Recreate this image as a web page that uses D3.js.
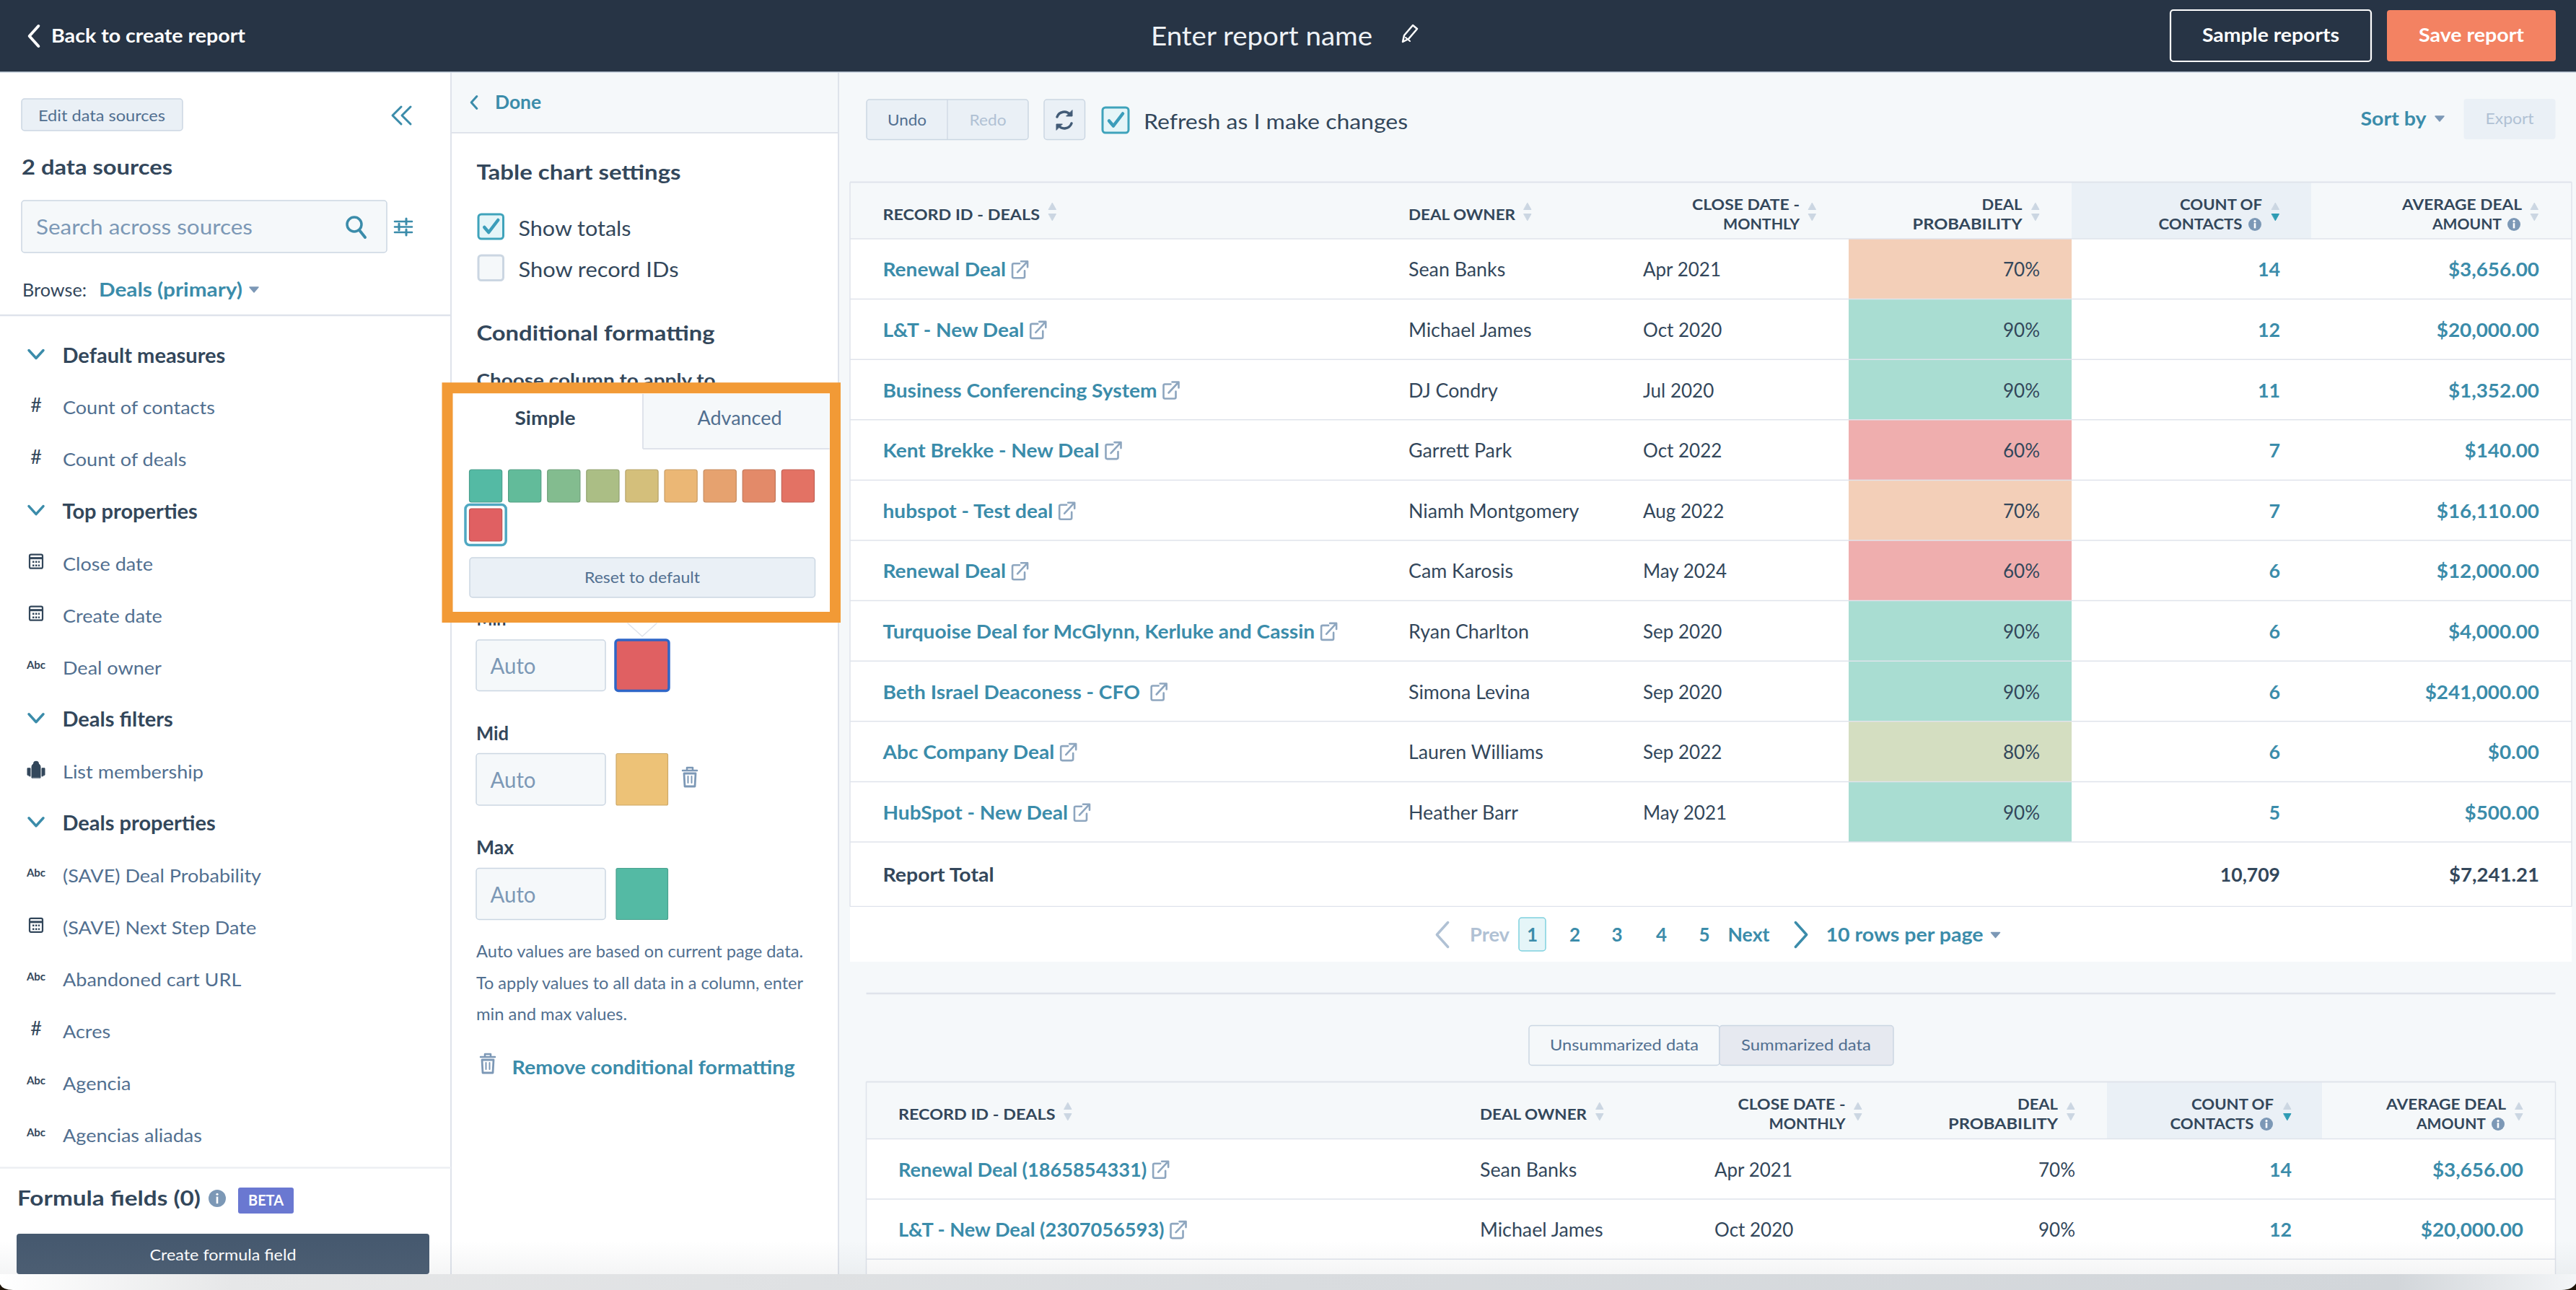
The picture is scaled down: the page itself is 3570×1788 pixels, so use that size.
<!DOCTYPE html>
<html><head><meta charset="utf-8">
<script src="https://cdn.jsdelivr.net/npm/d3@7/dist/d3.min.js"></script>
<style>html,body{margin:0;padding:0;background:#f5f8fa;overflow:hidden}svg{display:block}text{font-family:Lato,"Noto Sans",sans-serif}</style>
</head><body><svg id="c" width="3570" height="1788" viewBox="0 0 3570 1788"></svg>
<script>
// ---- data ----
const dealNames=["Renewal Deal","L&T - New Deal","Business Conferencing System","Kent Brekke - New Deal","hubspot - Test deal","Renewal Deal","Turquoise Deal for McGlynn, Kerluke and Cassin","Beth Israel Deaconess - CFO\u00a0","Abc Company Deal","HubSpot - New Deal"];
const dealOwners=["Sean Banks","Michael James","DJ Condry","Garrett Park","Niamh Montgomery","Cam Karosis","Ryan Charlton","Simona Levina","Lauren Williams","Heather Barr"];
const closeDates=["Apr 2021","Oct 2020","Jul 2020","Oct 2022","Aug 2022","May 2024","Sep 2020","Sep 2020","Sep 2022","May 2021"];
const dealProbs=[70,90,90,60,70,60,90,90,80,90];
const contactCounts=[14,12,11,7,7,6,6,6,6,5];
const dealAmounts=[3656,20000,1352,140,16110,12000,4000,241000,0,500];
const totalContacts=10709, totalAmount=7241.21;
const rawNames=["Renewal Deal (1865854331)","L&T - New Deal (2307056593)"];
const probLevels=[60,70,80,90];
const probColors=["#efaeae","#f3cfb8","#d4dec1","#a9ddd2"];
const palette=["#54baa4","#62bb9a","#83bc8f","#abbe85","#d4bf7b","#ebb775","#e6a26f","#e38a69","#e37264","#e06062"];
const sidebarLabels=["Default measures","Count of contacts","Count of deals","Top properties","Close date","Create date","Deal owner","Deals filters","List membership","Deals properties","(SAVE) Deal Probability","(SAVE) Next Step Date","Abandoned cart URL","Acres","Agencia","Agencias aliadas"];
const sidebarKinds=["h","#","#","h","d","d","a","h","l","h","a","d","a","#","a","a"];
const pageNumbers=[1,2,3,4,5];
const noteLines=["Auto values are based on current page data.","To apply values to all data in a column, enter","min and max values."];

// ---- helpers ----
const svg=d3.select("#c");
const TEAL="#3b8caa",INK="#33475b",SLATE="#516f90",MUTE="#7c98b6",LINE="#dfe3eb",BG="#f5f8fa",BTN="#eaf0f6",EDGE="#cbd6e2";
function T(x,cy,s,o={}){
  const t=svg.append("text").attr("x",x).attr("y",cy).attr("dy","0.35em").text(s)
   .attr("font-size",o.size||26).attr("font-weight",o.w||400).attr("fill",o.fill||INK).attr("text-anchor",o.a||"start");
  const n=t.node().getComputedTextLength();
  t.property("natural",n*(o.k||1));
  if(o.k){t.attr("textLength",n*o.k).attr("lengthAdjust","spacingAndGlyphs");}
  if(o.fit){t.attr("textLength",o.fit).attr("lengthAdjust","spacingAndGlyphs");}
  return t;
}
function R(x0,y0,x1,y1,o={}){
  return svg.append("rect").attr("x",x0).attr("y",y0).attr("width",x1-x0).attr("height",y1-y0)
   .attr("rx",o.r||0).attr("fill",o.fill||"none").attr("stroke",o.stroke||"none").attr("stroke-width",o.sw||1.5);
}
function L(x0,y0,x1,y1,c=LINE,sw=1.5){svg.append("line").attr("x1",x0).attr("y1",y0).attr("x2",x1).attr("y2",y1).attr("stroke",c).attr("stroke-width",sw);}
function P(d,o={}){return svg.append("path").attr("d",d).attr("fill",o.fill||"none").attr("stroke",o.stroke||"none").attr("stroke-width",o.sw||2).attr("stroke-linecap","round").attr("stroke-linejoin","round");}
function chevL(x,cy,h,c,sw=3.5){const w=h*0.45;P(`M${x+w/2},${cy-h/2}L${x-w/2},${cy}L${x+w/2},${cy+h/2}`,{stroke:c,sw});}
function chevR(x,cy,h,c,sw=3.5){const w=h*0.45;P(`M${x-w/2},${cy-h/2}L${x+w/2},${cy}L${x-w/2},${cy+h/2}`,{stroke:c,sw});}
function chevD(x,cy,c){P(`M${x-10},${cy-5}L${x},${cy+6}L${x+10},${cy-5}`,{stroke:c,sw:3.5});}
function caret(x,cy,c){P(`M${x-6},${cy-3}L${x+6},${cy-3}L${x},${cy+4}Z`,{fill:c,stroke:c,sw:1.5});}
function sort(x,y,act){
  P(`M${x-5},${y+9}L${x+5},${y+9}L${x},${y}Z`,{fill:EDGE,stroke:EDGE,sw:1});
  P(`M${x-5},${y+15}L${x+5},${y+15}L${x},${y+24}Z`,{fill:act?"#2f9cb4":EDGE,stroke:act?"#2f9cb4":EDGE,sw:1});
}
function info(x,cy,r=9){svg.append("circle").attr("cx",x).attr("cy",cy).attr("r",r).attr("fill",MUTE);
  R(x-1.3,cy-r*0.2,x+1.3,cy+r*0.6,{fill:"#fff"});svg.append("circle").attr("cx",x).attr("cy",cy-r*0.48).attr("r",1.6).attr("fill","#fff");}
function ext(x,cy){const c="#8ea6bf";
  P(`M${x+11},${cy-9}H${x+3}a2,2 0 0 0 -2,2V${cy+9}a2,2 0 0 0 2,2H${x+16}a2,2 0 0 0 2,-2V${cy+1}`,{stroke:c,sw:2.6});
  P(`M${x+8},${cy+3}L${x+21},${cy-11}M${x+13},${cy-12}H${x+22}V${cy-4}`,{stroke:c,sw:2.6});}
function check(x0,y0,x1,y1,on){R(x0,y0,x1,y1,{r:4,fill:on?"#e5f5f8":BG,stroke:on?"#3fa3bb":EDGE,sw:3});
  if(on){const cx=(x0+x1)/2,cy=(y0+y1)/2;P(`M${cx-9},${cy+1}L${cx-3},${cy+8}L${cx+10},${cy-9}`,{stroke:"#3b9dba",sw:4.5});}}
function trash(x,cy,c){P(`M${x-10},${cy-9}H${x+10}M${x-4},${cy-9}V${cy-13}H${x+4}V${cy-9}`,{stroke:c,sw:2.5});
  P(`M${x-8},${cy-5}H${x+8}L${x+7},${cy+13}H${x-7}Z`,{stroke:c,sw:2.8});P(`M${x-2.5},${cy-1}V${cy+8}M${x+2.5},${cy-1}V${cy+8}`,{stroke:c,sw:2});}

const fmtMoney=d3.format("$,.2f"),fmtInt=d3.format(",");
const probColor=d3.scaleOrdinal(probLevels,probColors);

// ---- page base ----
R(0,0,3570,1788,{fill:BG});
R(0,100,625,1788,{fill:"#fff"});R(625,184,1162,1788,{fill:"#fff"});R(625,100,1162,184,{fill:BG});
L(625,100,625,1788,LINE,2);L(1162,100,1162,1788,LINE,2);L(625,184,1162,184,LINE,2);

// ---- top bar ----
R(0,0,3570,100,{fill:"#273445"});L(0,100,3570,100,"#cbd6e2",1.5);
chevL(47,50,28,"#fff",4);
T(71,50,"Back to create report",{size:27,w:700,fill:"#fff",fit:269});
T(1595,50,"Enter report name",{size:37,fill:"#eef2f6",fit:307});
P("M1944,58l2,-9l12,-14l6,5l-12,14z",{stroke:"#fff",sw:2.5});P("M1948,52l6,5",{stroke:"#fff",sw:2});
R(3008,14,3286,85,{r:4,stroke:"#fff",sw:2.2});T(3147,49,"Sample reports",{size:26,w:700,fill:"#fff",a:"middle",fit:190});
R(3308,14,3542,85,{r:4,fill:"#f38262"});T(3425,49,"Save report",{size:26,w:700,fill:"#fff",a:"middle",fit:146});

// ---- sidebar ----
R(30,137,253,181,{r:4,fill:BTN,stroke:EDGE});T(53,161,"Edit data sources",{size:21,fill:SLATE,fit:176});
P("M556,148L544,160L556,172M569,148L557,160L569,172",{stroke:TEAL,sw:3});
T(30,232,"2 data sources",{size:28,w:700,fit:209});
R(30,278,536,350,{r:4,fill:BG,stroke:EDGE});T(50,315,"Search across sources",{size:29,fill:MUTE,fit:300});
svg.append("circle").attr("cx",491).attr("cy",311).attr("r",10).attr("fill","none").attr("stroke",TEAL).attr("stroke-width",3.5);
P("M498,319L506,329",{stroke:TEAL,sw:4});
P("M547,307H571M547,314.5H571M547,322H571",{stroke:TEAL,sw:2.6});P("M563,303V311M553,310V319M563,318V326",{stroke:TEAL,sw:3});
T(31,402,"Browse:",{size:25,fit:89});T(137,402,"Deals (primary)",{size:26,w:700,fill:TEAL,fit:199});caret(352,401,MUTE);
L(0,437,625,437,LINE,2.5);

const sideY=d3.scaleLinear().domain([0,15]).range([492.5,1573]);
sidebarLabels.forEach((s,i)=>{
  const k=sidebarKinds[i],y=sideY(i);
  if(k==="h"){chevD(50,y-2,TEAL);T(86.5,y,s,{size:29,w:700});return;}
  T(87,y+1,s,{size:25.5,fill:SLATE,k:1.06});
  if(k==="#")T(50,y-3,"#",{size:27,fill:INK,a:"middle"});
  if(k==="a")T(50,y-3,"Abc",{size:15,w:700,fill:INK,a:"middle"});
  if(k==="d"){R(41,y-12,59,y+7,{r:2,stroke:INK,sw:2.2});L(41,y-7,59,y-7,INK,3);
    svg.append("path").attr("d",`M45,${y-2}h10M45,${y+3}h10`).attr("stroke",INK).attr("stroke-width",2.5).attr("stroke-dasharray","2.5 1.5");}
  if(k==="l"){P(`M44,${y+9}V${y-6}a6,5 0 0 1 12,0V${y+9}Z`,{fill:INK,stroke:INK,sw:1});
    svg.append("circle").attr("cx",50).attr("cy",y-10).attr("r",4).attr("fill",INK);
    P(`M38,${y+5}V${y-4}h4V${y+7}ZM58,${y+7}V${y-4}h4V${y+5}Z`,{fill:INK,stroke:INK,sw:1});}
});
L(0,1618.5,625,1618.5,"#eceff3",2.5);
T(24,1661,"Formula fields (0)",{size:29,w:700,fit:254});info(301,1661,12);
R(330,1646,407,1682,{r:3,fill:"#6a78d1"});T(368.5,1664,"BETA",{size:20,w:700,fill:"#fff",a:"middle",fit:49});
R(23,1710,595,1766,{r:4,fill:"#46596f"});T(309,1739,"Create formula field",{size:22,fill:"#fff",a:"middle",fit:203});

// ---- settings panel ----
chevL(657,142,17,TEAL,3);T(686,142,"Done",{size:26,w:700,fill:TEAL,fit:64});
T(660.5,239,"Table chart settings",{size:28,w:700,fit:283});
check(663,297,697.5,331,true);T(718.5,317.5,"Show totals",{size:28,fit:156});
check(663,354,697.5,388.5,false);T(718.5,374,"Show record IDs",{size:28,fit:222});
T(660.5,462,"Conditional formatting",{size:28,w:700,fit:330});
T(660.5,527,"Choose column to apply to",{size:25,w:700,fit:331});
T(660.5,858,"Min",{size:25,w:700,fit:41});

const inputs=[[887,957.5,"Auto",palette[9]],[1044.5,1116,"Auto","#edc277"],[1203.5,1274.5,"Auto",palette[0]]];
inputs.forEach(([a,b,s,c],i)=>{
  R(660,a,839,b,{r:4,fill:BG,stroke:EDGE});T(679.5,(a+b)/2+1.5,s,{size:30,fill:MUTE,fit:63});
  if(i===0)R(853,a,927,b,{r:4,fill:c,stroke:"#2f66c7",sw:3.5});
  else R(854,a,925.5,b,{r:2,fill:c,stroke:d3.color(c).darker(0.4),sw:1.2});
});
T(660,1017,"Mid",{size:26,w:700,fit:45});T(660,1175,"Max",{size:26,w:700,fit:52});
trash(956,1077,MUTE);
const noteFit=[453,453,209];
noteLines.forEach((s,i)=>T(660,[1319.5,1363.5,1406.5][i],s,{size:22.5,fill:SLATE,fit:noteFit[i]}));
trash(676,1474,MUTE);T(709.5,1480,"Remove conditional formatting",{size:26,w:700,fill:TEAL,fit:392});

// orange call-out box
R(620,537.7,1157.5,855.5,{fill:"#fff",stroke:"#f29a36",sw:15});
P("M870,864L890,882L910,864",{stroke:LINE,sw:1.5});
R(891,546,1149.5,622,{fill:BG});L(891,546,891,622,LINE,2);L(891,622,1149.5,622,LINE,2);
T(755.5,580,"Simple",{size:26,w:700,a:"middle",fit:84});T(1025,580,"Advanced",{size:26,fill:SLATE,a:"middle",fit:117});
const swX=d3.scaleBand().domain(d3.range(9)).range([650.5,1128.5]).paddingInner(0.165);
palette.forEach((c,i)=>{
  const col=i%9,row=Math.floor(i/9),x=swX(col),y=row?705:651,w=swX.bandwidth();
  R(x,y,x+w,y+45,{r:3,fill:c,stroke:d3.color(c).darker(0.45),sw:1.2});
  if(i===9)R(x-5.5,y-5.5,x+w+5.5,y+50.5,{r:6,stroke:"#4fa8c2",sw:3.5});
});
R(651,773,1129.5,828,{r:4,fill:BTN,stroke:EDGE});T(890,801,"Reset to default",{size:21,fill:SLATE,a:"middle",fit:160});

// ---- toolbar ----
R(1201,138,1425,193.5,{r:4,fill:BTN,stroke:EDGE});L(1313,138,1313,193.5,EDGE,1.2);
T(1257,166.5,"Undo",{size:21,fill:SLATE,a:"middle",fit:54});T(1369,166.5,"Redo",{size:21,fill:"#b0c1d4",a:"middle",fit:51});
R(1447,138,1503.5,193.5,{r:4,fill:BTN,stroke:EDGE});
P("M1465,162a10.5,10.5 0 0 1 18,-3M1485,171a10.5,10.5 0 0 1 -18,3",{stroke:"#425b76",sw:3.5});
P("M1486,153V161H1478ZM1464,180V172H1472Z",{fill:"#425b76",stroke:"#425b76",sw:1});
check(1528,149,1564,184,true);T(1585,169,"Refresh as I make changes",{size:28,fit:366});
T(3271.5,165,"Sort by",{size:26,w:700,fill:TEAL,fit:91});caret(3381,164,MUTE);
R(3414.5,137,3541.5,193,{r:4,fill:BTN});T(3478,165,"Export",{size:21,fill:"#b0c1d4",a:"middle",fit:67});

// ---- generic table ----
function drawTable(h){
  R(h.x0,h.top,h.x1,h.bottom,{fill:"#fff"});
  R(h.x0,h.top,h.x1,h.hb,{fill:BG});
  R(h.hi0,h.top,h.hi1,h.hb,{fill:BTN});
  const yR=d3.scaleBand().domain(d3.range(h.names.length)).range([h.hb,h.hb+h.rowH*h.names.length]);
  if(h.cells) h.names.forEach((_,i)=>R(h.cell0,yR(i),h.cell1,yR(i)+yR.bandwidth(),{fill:probColor(dealProbs[i])}));
  L(h.x0,h.top,h.x1,h.top,LINE,2);L(h.x0,h.hb,h.x1,h.hb,LINE,1.5);
  h.names.forEach((n,i)=>{
    const cy=yR(i)+yR.bandwidth()/2+1.5, ln=yR(i)+yR.bandwidth();
    L(h.x0,ln,h.x1,ln,LINE,1.5);
    const t=T(h.tx.name,cy,n,{size:h.sz,w:700,fill:TEAL,k:h.nameK});
    ext(h.tx.name+t.property("natural")+8,cy);
    T(h.tx.owner,cy,dealOwners[i],{size:h.sz,k:1.03});
    T(h.tx.date,cy,closeDates[i],{size:h.sz});
    T(h.tx.prob,cy,dealProbs[i]+"%",{size:h.sz,a:"end"});
    T(h.tx.count,cy,fmtInt(contactCounts[i]),{size:h.sz,w:700,fill:TEAL,a:"end",k:1.03});
    T(h.tx.amt,cy,fmtMoney(dealAmounts[i]),{size:h.sz,w:700,fill:TEAL,a:"end",k:1.07});
  });
  L(h.x0,h.top,h.x0,h.bottom,LINE,1.5);L(h.x1,h.top,h.x1,h.bottom,LINE,1.5);
  const g={size:21.5,w:700},y1=h.top+31,y2=h.top+58,ys=h.top+44.5,ya=h.top+29;
  T(h.tx.name,ys,"RECORD ID - DEALS",{...g,fit:217.5});sort(h.ar[0],ya,false);
  T(h.tx.owner,ys,"DEAL OWNER",{...g,fit:148});sort(h.ar[1],ya,false);
  T(h.hr[0],y1,"CLOSE DATE -",{...g,a:"end",fit:149});T(h.hr[0],y2,"MONTHLY",{...g,a:"end",fit:106});sort(h.ar[2],ya,false);
  T(h.hr[1],y1,"DEAL",{...g,a:"end",fit:56});T(h.hr[1],y2,"PROBABILITY",{...g,a:"end",fit:152});sort(h.ar[3],ya,false);
  T(h.hr[2],y1,"COUNT OF",{...g,a:"end",fit:114});T(h.hr[2]-27.5,y2,"CONTACTS",{...g,a:"end",fit:116});info(h.hr[2]-10,y2+.5);sort(h.ar[4],ya,true);
  T(h.hr[3],y1,"AVERAGE DEAL",{...g,a:"end",fit:166});T(h.hr[3]-28,y2,"AMOUNT",{...g,a:"end",fit:96});info(h.hr[3]-11,y2+.5);sort(h.ar[5],ya,false);
}
drawTable({x0:1178,x1:3564,top:252.5,hb:331,bottom:1256.5,rowH:83.6,hi0:2871,hi1:3203,cell0:2562,cell1:2871,cells:true,sz:26,names:dealNames,nameK:1.08,
  tx:{name:1223.5,owner:1952,date:2277,prob:2827,count:3160,amt:3519},hr:[2494,2802.5,3135,3495],ar:[1458.5,2117,2511.5,2821,3153.5,3512.5]});
// report total
T(1223.5,1212.5,"Report Total",{size:26,w:700,fit:154});
T(3160,1212.5,fmtInt(totalContacts),{size:26,w:700,a:"end",k:1.02});
T(3519,1212.5,fmtMoney(totalAmount),{size:26,w:700,a:"end",k:1.06});
L(1178,1256.5,3564,1256.5,LINE,1.5);
// pagination
R(1178,1257,3564,1333,{fill:"#fff"});
const py=1295.5;
chevL(1999,py,34,"#b0c1d4",3.5);T(2037,py,"Prev",{size:26,w:700,fill:"#b0c1d4",fit:55});
R(2105,1272,2142,1318,{r:4,fill:"#e5f5f8",stroke:"#7fd1de"});
const pageX=d3.scaleOrdinal(pageNumbers,[2123.5,2182.5,2241,2302.5,2362]);
pageNumbers.forEach(p=>T(pageX(p),py,p,{size:26,w:700,fill:TEAL,a:"middle"}));
T(2394.5,py,"Next",{size:26,w:700,fill:TEAL,fit:58});chevR(2496,py,34,TEAL,3.5);
T(2530.5,py,"10 rows per page",{size:26,w:700,fill:TEAL,fit:218});caret(2765.5,py,MUTE);

// divider + toggle
L(1200.5,1377,3541.5,1377,LINE,2.5);
R(2119,1421.5,2383,1476.5,{r:4,fill:BG,stroke:EDGE});T(2251,1449,"Unsummarized data",{size:21,fill:SLATE,a:"middle",fit:206});
R(2383,1421.5,2624,1476.5,{r:4,fill:"#e6e9f0",stroke:EDGE});T(2503,1449,"Summarized data",{size:21,fill:SLATE,a:"middle",fit:180});

// second table
drawTable({x0:1200.5,x1:3541.5,top:1499.5,hb:1578.5,bottom:1788,rowH:83.4,hi0:2920,hi1:3218,cells:false,sz:26,names:rawNames,nameK:1.045,
  tx:{name:1245,owner:2051,date:2376,prob:2876,count:3176,amt:3497},hr:[2557.5,2852,3151,3473],ar:[1480,2217,2575,2870,3170,3491]});

// bottom photo fade
const defs=svg.append("defs");
const f=defs.append("linearGradient").attr("id","fade").attr("x1",0).attr("x2",0).attr("y1",0).attr("y2",1);
f.append("stop").attr("offset",0).attr("stop-color","#8a9097").attr("stop-opacity",0);
f.append("stop").attr("offset",1).attr("stop-color","#8a9097").attr("stop-opacity",0.09);
R(0,1720,3570,1766,{fill:"url(#fade)"});
const s=defs.append("linearGradient").attr("id","strip");
[[0,"#ffffff"],[0.09,"#e6e7e8"],[0.5,"#d9dcdf"],[0.93,"#d2d6da"],[1,"#f3f5f7"]].forEach(([o,c])=>s.append("stop").attr("offset",o).attr("stop-color",c));
R(0,1766,3570,1788,{fill:"url(#strip)"});
P("M0,1780Q4,1788 18,1788H0Z",{fill:"#1d1408"});
P("M3570,1779Q3564,1788 3550,1788H3570Z",{fill:"#1d1408"});
</script></body></html>
